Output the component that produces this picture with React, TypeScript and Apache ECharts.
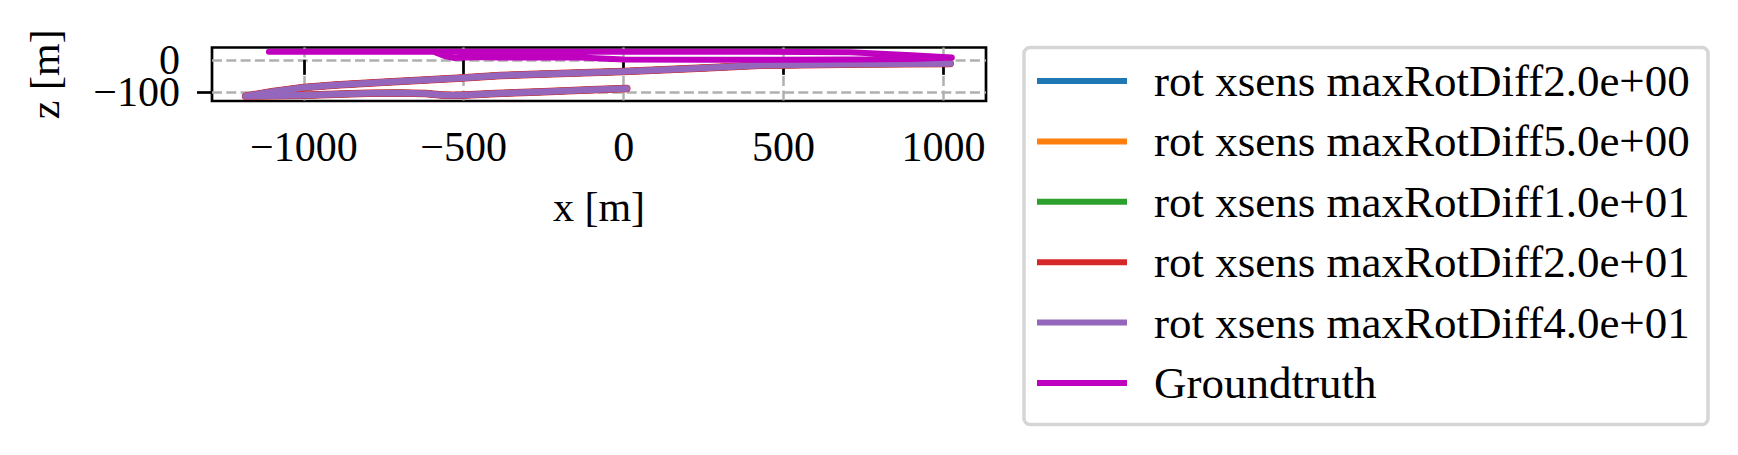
import React, { useEffect, useRef } from 'react';
import * as echarts from 'echarts';

const seriesNames = [
  'rot xsens maxRotDiff2.0e+00',
  'rot xsens maxRotDiff5.0e+00',
  'rot xsens maxRotDiff1.0e+01',
  'rot xsens maxRotDiff2.0e+01',
  'rot xsens maxRotDiff4.0e+01',
  'Groundtruth',
];
const seriesColors = ['#1f77b4', '#ff7f0e', '#2ca02c', '#d62728', '#9467bd', '#bf00bf'];

// Estimated trajectory (all five estimates overlap in the picture)
const estX = [10, -100, -250, -400, -510, -560, -620, -700, -800, -900, -1000, -1100, -1182,
  -1100, -1000, -900, -750, -520, -385, -271, 0, 250, 427, 750, 1021];
const estZ = [-89, -93, -99, -105, -110, -110, -105, -103, -104, -107, -110, -112, -113,
  -99, -86, -78, -70, -57, -49, -45, -36, -25, -17, -13, -11];

// Ground truth trajectory
const gtX = [-1109, -900, -700, -594, -560, -532, -448, -400, -136, 0, 250, 500, 700, 900, 1026,
  900, 708, 400, 0, -300, -594, -900, -1109];
const gtZ = [25, 25, 25, 25, 12, 6, 9, 7, 7, 1, 0, 0, 1, 3, 7,
  14, 24, 25, 25, 25, 25, 25, 25];

const xTicks = [-1000, -500, 0, 500, 1000];
const zTicksUpper = [0];
const zTicksLower = [-100];
const xLimits = [-1287, 1133];
const zLimits = [-128, 38.4];

const FONT = "'Liberation Serif', 'DejaVu Serif', serif";
const fmt = (v: number) => (v < 0 ? '\u2212' + Math.abs(v) : String(v));
const pairs = (xs: number[], zs: number[]) => xs.map((x, i) => [x, zs[i]]);
const lineWidths = [6.5, 6.5, 6.5, 7.5, 6.5, 6];

const gridLine = { show: true, lineStyle: { color: '#b0b0b0', width: 2.5, type: [10, 4.3] } };
const yAxisFor = (ticks: number[], withName: boolean) => ({
  type: 'value', min: zLimits[0], max: zLimits[1], position: 'left', offset: 0,
  axisLine: { show: false },
  axisTick: { show: true, customValues: ticks, length: 15, lineStyle: { color: '#000', width: 2.7 } },
  axisLabel: {
    customValues: ticks, formatter: fmt, fontSize: 42, lineHeight: 30, color: '#000', margin: 32,
    fontFamily: FONT, hideOverlap: false,
  },
  splitLine: gridLine,
  name: withName ? 'z [m]' : '', nameLocation: 'middle', nameGap: 146, nameRotate: 90,
  nameTextStyle: { fontSize: 42, color: '#000', fontFamily: FONT },
});

export default function App() {
  const ref = useRef<HTMLDivElement>(null);
  useEffect(() => {
    if (!ref.current) return;
    const chart = echarts.init(ref.current, null, { renderer: 'svg' });
    const series = seriesNames.map((name, i) => ({
      name,
      type: 'line',
      xAxisIndex: 0,
      yAxisIndex: 0,
      data: i < 5 ? pairs(estX, estZ) : pairs(gtX, gtZ),
      showSymbol: false,
      symbol: 'none',
      lineStyle: { color: seriesColors[i], width: lineWidths[i], cap: 'round', join: 'round' },
      itemStyle: { color: seriesColors[i] },
      z: 2 + i,
    }));
    chart.setOption({
      animation: false,
      backgroundColor: '#ffffff',
      textStyle: { fontFamily: FONT },
      grid: {
        left: 212, top: 47.5, width: 774, height: 53.5,
        show: true, borderColor: '#000', borderWidth: 2.7, backgroundColor: 'transparent',
      },
      xAxis: {
        type: 'value', min: xLimits[0], max: xLimits[1],
        axisLine: { show: false },
        axisTick: { show: true, customValues: xTicks, length: 15, lineStyle: { color: '#000', width: 2.7 } },
        axisLabel: { customValues: xTicks, formatter: fmt, fontSize: 42, color: '#000', margin: 25, fontFamily: FONT, hideOverlap: false },
        splitLine: gridLine,
        name: 'x [m]', nameLocation: 'middle', nameGap: 85,
        nameTextStyle: { fontSize: 42, color: '#000', fontFamily: FONT },
      },
      yAxis: [yAxisFor(zTicksUpper, true), yAxisFor(zTicksLower, false)],
      legend: {
        orient: 'vertical', left: 1034, top: 58.5,
        itemWidth: 90, itemHeight: 14, itemGap: 15.4,
        padding: 0,
        itemStyle: { opacity: 0 },
        lineStyle: { width: 6, cap: 'butt' },
        textStyle: { fontSize: 45, lineHeight: 44, color: '#000', fontFamily: FONT, padding: [0, 0, 0, 22] },
        data: seriesNames,
        z: 10,
      },
      graphic: [
        {
          type: 'rect', silent: true, z: 0,
          shape: { x: 1024, y: 47.5, width: 684, height: 377, r: 6 },
          style: { fill: '#ffffff', stroke: '#d6d6d6', lineWidth: 3.5 },
        },
      ],
      series,
    });
    return () => chart.dispose();
  }, []);
  return <div ref={ref} style={{ position: 'absolute', left: 0, top: 0, width: 1738, height: 455 }} />;
}
